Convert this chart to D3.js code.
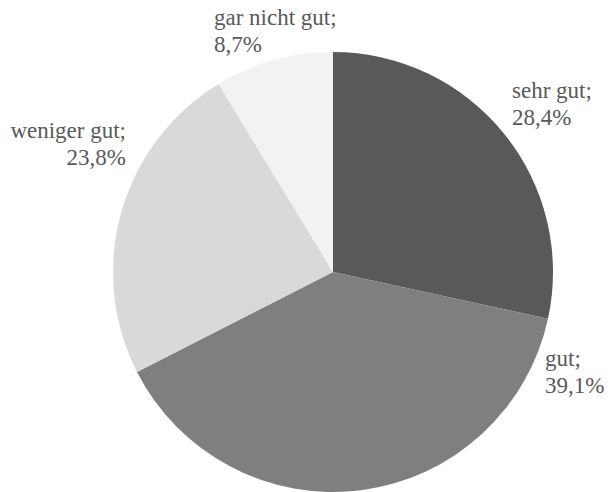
<!DOCTYPE html>
<html>
<head>
<meta charset="utf-8">
<script src="https://cdn.jsdelivr.net/npm/d3@7"></script>
</head>
<body style="margin:0">
<svg id="chart" width="608" height="492"></svg>
<script>
// ---- data ----
const categories = ["sehr gut", "gut", "weniger gut", "gar nicht gut"];
const values = [28.4, 39.1, 23.8, 8.7];
const valueLabels = ["28,4%", "39,1%", "23,8%", "8,7%"];
const colors = ["#595959", "#7f7f7f", "#d9d9d9", "#f2f2f2"];

// ---- layout ----
const cx = 333, cy = 272, R = 220;
// label placement (x, first baseline, anchor) per category
const labelLayout = [
  { x: 512, y: 98,  anchor: "start" },
  { x: 545, y: 366, anchor: "start" },
  { x: 126, y: 138, anchor: "end" },
  { x: 214, y: 25,  anchor: "start" }
];
const lineH = 27;
const serifFont = "Liberation Serif";

const svg = d3.select("#chart");
const g = svg.append("g").attr("transform", `translate(${cx},${cy})`);

const pie = d3.pie().sort(null).value(d => d.value);
const arcs = pie(categories.map((c, i) => ({ cat: c, value: values[i], i })));
const arc = d3.arc().innerRadius(0).outerRadius(R);

const color = d3.scaleOrdinal().domain(categories).range(colors);

g.selectAll("path.slice")
  .data(arcs)
  .join("path")
  .attr("class", "slice")
  .attr("d", arc)
  .attr("fill", d => color(d.data.cat));

const lines = [];
arcs.forEach(a => {
  const L = labelLayout[a.data.i];
  lines.push({ text: a.data.cat + ";", x: L.x, y: L.y, anchor: L.anchor });
  lines.push({ text: valueLabels[a.data.i], x: L.x, y: L.y + lineH, anchor: L.anchor });
});

svg.selectAll("text.lbl")
  .data(lines)
  .join("text")
  .attr("class", "lbl")
  .attr("x", d => d.x)
  .attr("y", d => d.y)
  .attr("font-family", d => `'${serifFont}'`)
  .style("font-family", `'${serifFont}', Tinos, 'Times New Roman'`)
  .attr("font-size", 23)
  .attr("fill", "#595959")
  .attr("text-anchor", d => d.anchor)
  .text(d => d.text);
</script>
</body>
</html>
